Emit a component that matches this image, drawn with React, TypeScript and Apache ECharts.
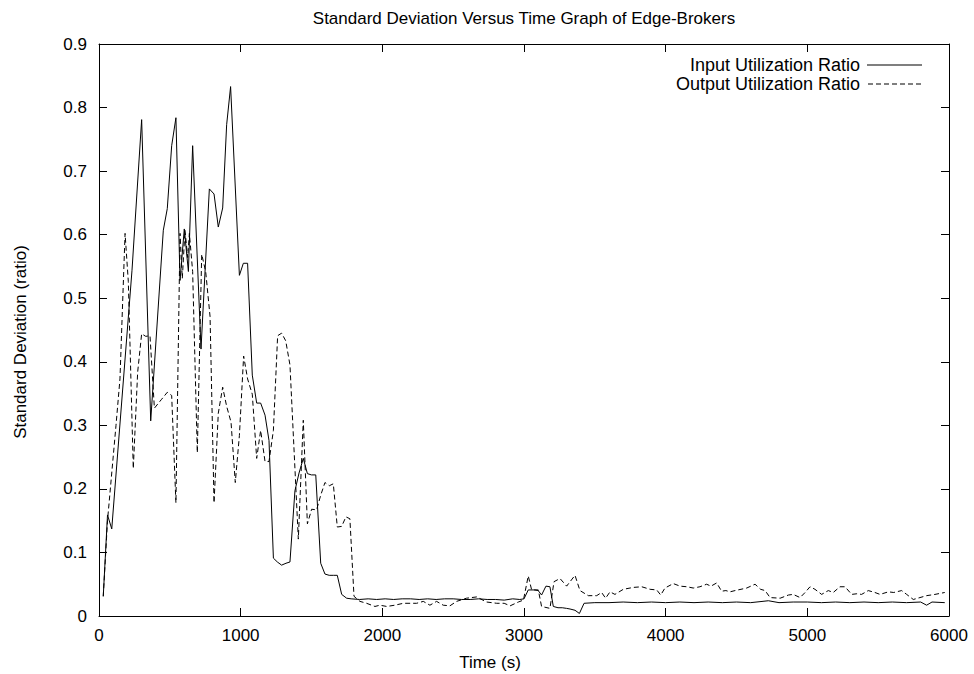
import React, { useEffect, useRef } from "react";
import * as echarts from "echarts";

const titleText = "Standard Deviation Versus Time Graph of Edge-Brokers";
const xAxisTitle = "Time (s)";
const yAxisTitle = "Standard Deviation (ratio)";
const seriesNames = ["Input Utilization Ratio", "Output Utilization Ratio"];

const inputTimes = [
  30, 60, 90, 233, 301, 365, 454, 482, 513, 543, 572, 602, 631, 661, 720, 779, 812, 842, 873, 901, 929,
  991, 1019, 1049, 1082, 1113, 1141, 1172, 1200, 1231, 1259, 1289, 1320, 1348, 1383, 1412, 1442, 1471,
  1500, 1530, 1565, 1595, 1625, 1654, 1682, 1713, 1748, 1780, 1840, 1900, 1960, 2020, 2080, 2140, 2200,
  2260, 2320, 2380, 2440, 2500, 2560, 2620, 2680, 2740, 2800, 2860, 2920, 2970, 3000, 3030, 3077, 3100,
  3124, 3155, 3183, 3207, 3240, 3270, 3300, 3325, 3360, 3391, 3424, 3500, 3600, 3700, 3800, 3900, 4000,
  4100, 4200, 4300, 4400, 4500, 4600, 4725, 4800, 4900, 5000, 5100, 5200, 5300, 5400, 5500, 5600, 5700,
  5800, 5842, 5880, 5970,
];
const inputValues = [
  0.031, 0.159, 0.137, 0.544, 0.781, 0.307, 0.607, 0.641, 0.74, 0.784, 0.528, 0.609, 0.542, 0.74, 0.42,
  0.672, 0.664, 0.612, 0.642, 0.773, 0.833, 0.536, 0.555, 0.555, 0.379, 0.335, 0.335, 0.316, 0.276, 0.091,
  0.085, 0.08, 0.083, 0.085, 0.197, 0.225, 0.248, 0.224, 0.222, 0.222, 0.083, 0.066, 0.064, 0.064, 0.064,
  0.034, 0.028, 0.027, 0.026, 0.027, 0.026, 0.027, 0.026, 0.027, 0.027, 0.026, 0.027, 0.026, 0.027, 0.027,
  0.026, 0.026, 0.027, 0.026, 0.026, 0.025, 0.027, 0.026, 0.027, 0.041, 0.041, 0.04, 0.033, 0.047, 0.046,
  0.015, 0.013, 0.013, 0.012, 0.011, 0.009, 0.004, 0.02, 0.021, 0.021, 0.022, 0.021, 0.022, 0.021, 0.022,
  0.021, 0.022, 0.021, 0.022, 0.021, 0.024, 0.021, 0.022, 0.022, 0.021, 0.022, 0.021, 0.022, 0.021, 0.022,
  0.021, 0.022, 0.017, 0.022, 0.021,
];

const outputTimes = [
  30, 60, 120, 148, 184, 207, 242, 273, 301, 330, 360, 391, 420, 442, 482, 513, 543, 572, 588, 607, 626,
  638, 661, 694, 725, 753, 784, 812, 842, 873, 901, 932, 962, 991, 1021, 1049, 1082, 1113, 1141, 1172,
  1200, 1231, 1261, 1289, 1318, 1348, 1407, 1442, 1471, 1501, 1536, 1565, 1595, 1626, 1654, 1682, 1713,
  1743, 1771, 1800, 1842, 1889, 1948, 1983, 2031, 2089, 2148, 2200, 2242, 2289, 2336, 2383, 2430, 2477,
  2524, 2594, 2666, 2736, 2807, 2860, 2902, 2960, 2996, 3030, 3054, 3101, 3124, 3183, 3212, 3254, 3301,
  3360, 3395, 3454, 3513, 3548, 3576, 3607, 3642, 3701, 3772, 3831, 3890, 3937, 3965, 3995, 4054, 4101,
  4150, 4195, 4242, 4289, 4320, 4360, 4395, 4425, 4454, 4490, 4572, 4631, 4670, 4702, 4737, 4808, 4867,
  4900, 4949, 4984, 5019, 5054, 5101, 5148, 5183, 5230, 5266, 5313, 5350, 5383, 5430, 5477, 5513, 5572,
  5610, 5666, 5701, 5748, 5795, 5842, 5901, 5970,
];
const outputValues = [
  0.031, 0.15, 0.3, 0.373, 0.602, 0.526, 0.232, 0.384, 0.444, 0.44, 0.441, 0.327, 0.335, 0.341, 0.352,
  0.347, 0.178, 0.602, 0.531, 0.607, 0.564, 0.602, 0.542, 0.257, 0.569, 0.542, 0.471, 0.178, 0.319, 0.36,
  0.33, 0.305, 0.21, 0.284, 0.409, 0.373, 0.349, 0.248, 0.292, 0.243, 0.243, 0.292, 0.441, 0.445, 0.433,
  0.395, 0.121, 0.308, 0.145, 0.168, 0.167, 0.19, 0.21, 0.205, 0.208, 0.14, 0.141, 0.156, 0.153, 0.031,
  0.023, 0.02, 0.015, 0.017, 0.015, 0.017, 0.02, 0.02, 0.02, 0.023, 0.017, 0.023, 0.017, 0.016, 0.023,
  0.028, 0.03, 0.022, 0.02, 0.02, 0.016, 0.022, 0.025, 0.063, 0.041, 0.041, 0.015, 0.012, 0.054, 0.059,
  0.047, 0.064, 0.04, 0.032, 0.032, 0.037, 0.028, 0.038, 0.034, 0.042, 0.045, 0.046, 0.042, 0.041, 0.033,
  0.044, 0.051, 0.047, 0.046, 0.044, 0.046, 0.05, 0.047, 0.052, 0.039, 0.04, 0.038, 0.04, 0.044, 0.05,
  0.042, 0.04, 0.029, 0.028, 0.033, 0.034, 0.029, 0.037, 0.046, 0.042, 0.034, 0.04, 0.037, 0.046, 0.046,
  0.034, 0.035, 0.034, 0.04, 0.037, 0.034, 0.038, 0.037, 0.04, 0.034, 0.026, 0.029, 0.032, 0.034, 0.037,
];

const FONT = "'Liberation Sans', Arial, Helvetica, sans-serif";
const DASH_ICON =
  "path://M0 0h5v1H0z M8 0h5v1H8z M16 0h5v1H16z M24 0h5v1H24z M32 0h5v1H32z M40 0h5v1H40z M48 0h5v1H48z";

export default function App() {
  const ref = useRef<HTMLDivElement>(null);
  useEffect(() => {
    if (!ref.current) return;
    const chart = echarts.init(ref.current, undefined, { renderer: "svg" });
    const inputData = inputTimes.map((t, i) => [t, inputValues[i]]);
    const outputData = outputTimes.map((t, i) => [t, outputValues[i]]);
    const axisLine = { show: true, onZero: false, lineStyle: { color: "#000", width: 1 } };
    const tick = { show: true, inside: true, length: 8, lineStyle: { color: "#000", width: 1 } };
    const label = { color: "#000", fontSize: 17, fontFamily: FONT };
    chart.setOption({
      animation: false,
      backgroundColor: "#fff",
      textStyle: { fontFamily: FONT },
      grid: { left: 99, right: 25, top: 44, bottom: 58, containLabel: false },
      xAxis: [
        {
          type: "value", min: 0, max: 6000, interval: 1000, position: "bottom",
          axisLine, axisTick: tick, splitLine: { show: false },
          axisLabel: { ...label, margin: 11, formatter: (v: number) => String(v) },
        },
        {
          type: "value", min: 0, max: 6000, interval: 1000, position: "top",
          axisLine, axisTick: tick, splitLine: { show: false }, axisLabel: { show: false },
        },
      ],
      yAxis: [
        {
          type: "value", min: 0, max: 0.9, interval: 0.1, position: "left",
          axisLine, axisTick: tick, splitLine: { show: false },
          axisLabel: { ...label, margin: 12, formatter: (v: number) => String(Math.round(v * 10) / 10) },
        },
        {
          type: "value", min: 0, max: 0.9, interval: 0.1, position: "right",
          axisLine, axisTick: tick, splitLine: { show: false }, axisLabel: { show: false },
        },
      ],
      legend: {
        orient: "vertical",
        right: 47,
        top: 51,
        align: "right",
        itemWidth: 55,
        itemHeight: 1,
        itemGap: 1,
        selectedMode: false,
        textStyle: { color: "#000", fontSize: 18, lineHeight: 17, fontFamily: FONT, padding: [0, 2, 0, 0] },
        data: [
          { name: seriesNames[0], icon: "rect" },
          { name: seriesNames[1], icon: DASH_ICON },
        ],
      },
      graphic: [
        {
          type: "text", x: 524, y: 18,
          style: { text: titleText, fill: "#000", font: `17px ${FONT}`, textAlign: "center", textVerticalAlign: "middle" },
        },
        {
          type: "text", x: 490, y: 662,
          style: { text: xAxisTitle, fill: "#000", font: `17px ${FONT}`, textAlign: "center", textVerticalAlign: "middle" },
        },
        {
          type: "text", x: 20, y: 342, rotation: Math.PI / 2,
          style: { text: yAxisTitle, fill: "#000", font: `17px ${FONT}`, textAlign: "center", textVerticalAlign: "middle" },
        },
      ],
      series: [
        {
          name: seriesNames[0], type: "line", data: inputData, symbol: "none",
          lineStyle: { color: "#000", width: 1, type: "solid" }, itemStyle: { color: "#000" },
        },
        {
          name: seriesNames[1], type: "line", data: outputData, symbol: "none",
          lineStyle: { color: "#000", width: 1, type: [5, 3] }, itemStyle: { color: "#000" },
        },
      ],
    });
    return () => chart.dispose();
  }, []);
  return <div ref={ref} style={{ width: 974, height: 674, position: "absolute", left: 0, top: 0 }} />;
}
